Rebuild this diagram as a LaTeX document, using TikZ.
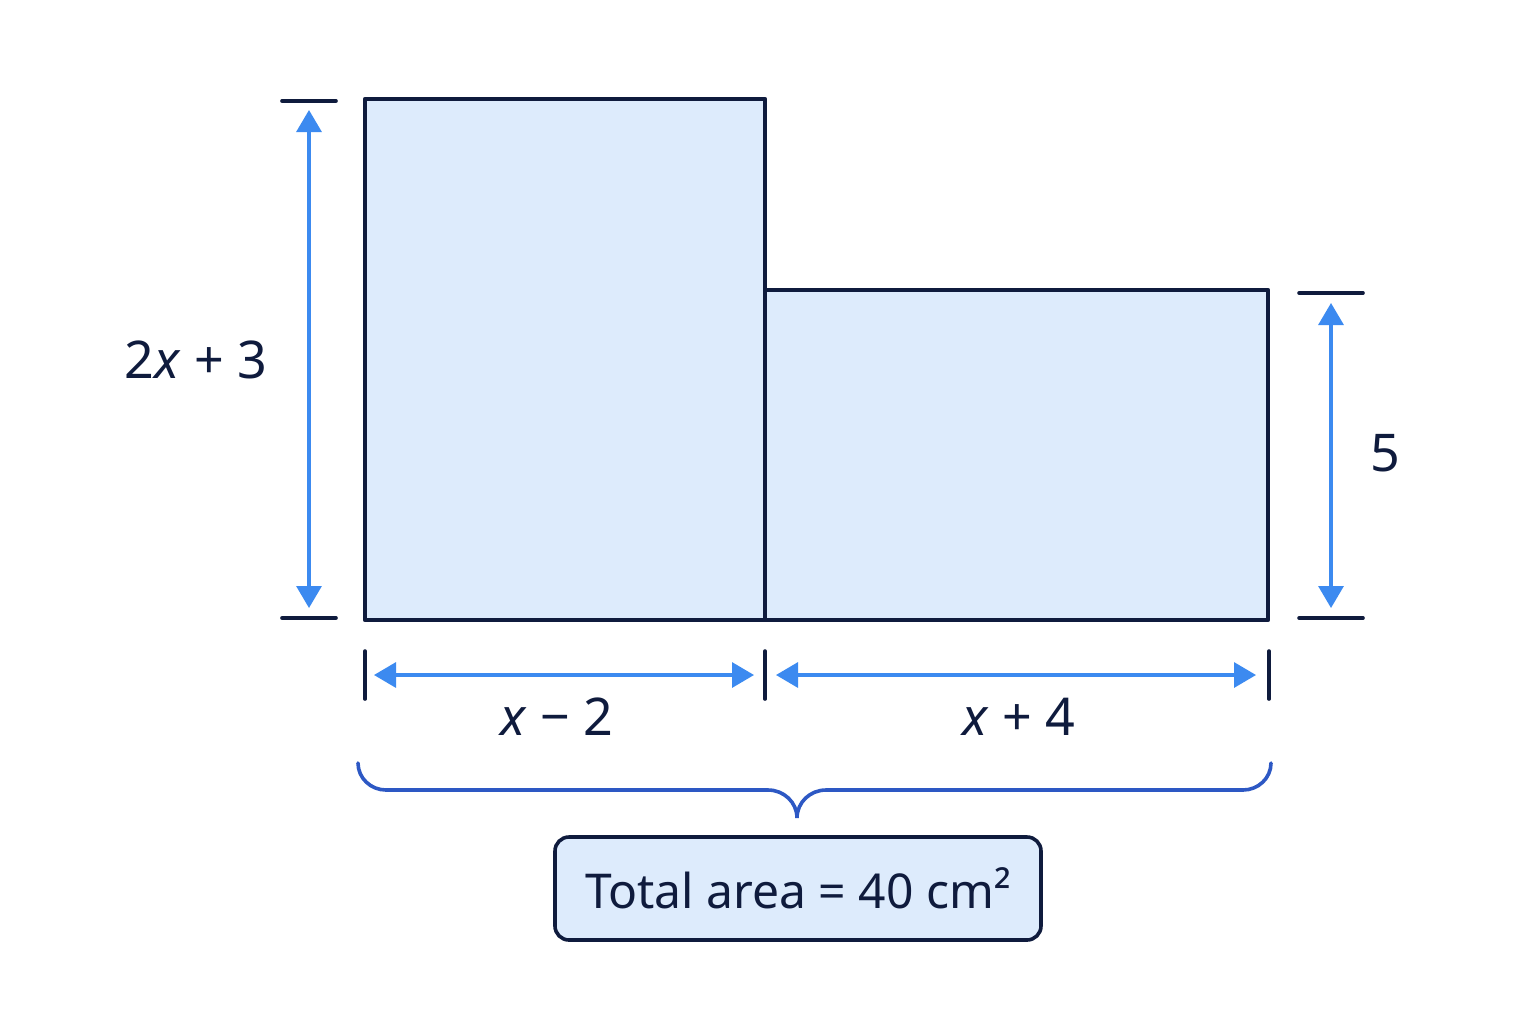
\documentclass[tikz,border=0pt]{standalone}
\usepackage{fontspec}
\setmainfont{Noto Sans}
\usetikzlibrary{arrows.meta}
\definecolor{navy}{HTML}{0F1B3D}
\definecolor{dimblue}{HTML}{3C8AF0}
\definecolor{fillblue}{HTML}{DDEBFC}
\definecolor{braceblue}{HTML}{2D58C4}
\begin{document}
\begin{tikzpicture}[x=0.5pt,y=-0.5pt,
  rectshape/.style={draw=navy,fill=fillblue,line width=2.3pt,line join=round},
  tickline/.style={draw=navy,line width=1.8pt,line cap=round},
  dimline/.style={draw=dimblue,line width=1.6pt,{Triangle[length=11pt,width=12.5pt]}-{Triangle[length=11pt,width=12.5pt]},color=dimblue},
  lab/.style={text=navy,font=\fontsize{26}{30}\selectfont,inner sep=0pt},
  bracepath/.style={draw=braceblue,line width=1.8pt,line cap=round}]
\fill[white] (0,0) rectangle (1536,1024);
\useasboundingbox (0,0) rectangle (1536,1024);
% shapes
\draw[rectshape] (365,99) rectangle (765,620);
\draw[rectshape] (765,290) rectangle (1268,620);
\draw[navy,line width=2.3pt] (765,290) -- (765,620);
% left dimension
\coordinate (lt1) at (282,101); \coordinate (lt2) at (336,101);
\coordinate (lb1) at (282,618); \coordinate (lb2) at (336,618);
\draw[tickline] (lt1) -- (lt2);
\draw[tickline] (lb1) -- (lb2);
\coordinate (la) at (309,110); \coordinate (lz) at (309,608);
\draw[dimline] (la) -- (lz);
\node[lab] (hl) at (196,360) {2\textit{x} + 3};
% right dimension
\coordinate (rt1) at (1299,293); \coordinate (rt2) at (1363,293);
\coordinate (rb1) at (1299,618); \coordinate (rb2) at (1363,618);
\draw[tickline] (rt1) -- (rt2);
\draw[tickline] (rb1) -- (rb2);
\coordinate (ra) at (1331,303); \coordinate (rz) at (1331,608);
\draw[dimline] (ra) -- (rz);
\node[lab] (hr) at (1385,453) {5};
% bottom dimensions
\coordinate (b1t) at (365,651); \coordinate (b1b) at (365,699);
\coordinate (b2t) at (765,651); \coordinate (b2b) at (765,699);
\coordinate (b3t) at (1269,651); \coordinate (b3b) at (1269,699);
\draw[tickline] (b1t) -- (b1b);
\draw[tickline] (b2t) -- (b2b);
\draw[tickline] (b3t) -- (b3b);
\coordinate (w1a) at (374,675); \coordinate (w1z) at (754,675);
\coordinate (w2a) at (776,675); \coordinate (w2z) at (1256,675);
\draw[dimline] (w1a) -- (w1z);
\draw[dimline] (w2a) -- (w2z);
\node[lab] (wl) at (557,717) {\textit{x} − 2};
\node[lab] (wr) at (1019,717) {\textit{x} + 4};
% brace
\coordinate (brL) at (358,763);
\coordinate (brM) at (797,818);
\coordinate (brR) at (1271,763);
\draw[bracepath] (brL) to[out=-90,in=180] (386,790) -- (768,790) to[out=0,in=90] (brM)
  to[out=90,in=180] (826,790) -- (1243,790) to[out=0,in=-90] (brR);
% total box
\node[draw=navy,fill=fillblue,line width=1.8pt,rounded corners=7pt,
  minimum width=243pt,minimum height=51.5pt,text=navy,
  font=\fontsize{24}{28}\selectfont,inner sep=0pt] (total) at (798,888.5)
  {Total area = 40 cm²};
\end{tikzpicture}
\end{document}
